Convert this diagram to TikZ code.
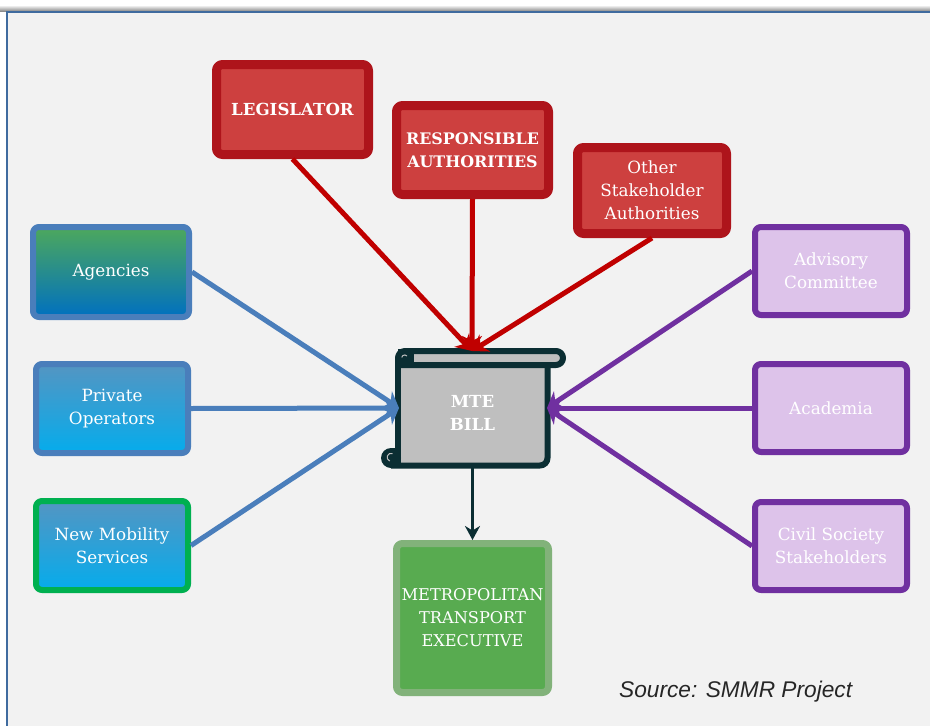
\documentclass[tikz,border=0pt]{standalone}
\usepackage{fontspec}
\setmainfont{DejaVu Serif}
\newfontfamily\srcfont{Liberation Sans}
\usetikzlibrary{shadows,arrows.meta}
\definecolor{bgc}{HTML}{F2F2F2}
\definecolor{redb}{HTML}{AE141B}
\definecolor{redf}{HTML}{CD403F}
\definecolor{redl}{HTML}{C00000}
\definecolor{blueb}{HTML}{4A7EBB}
\definecolor{purb}{HTML}{7030A0}
\definecolor{purf}{HTML}{DDC3EA}
\definecolor{darkb}{HTML}{0B2E33}
\definecolor{grayf}{HTML}{BFBFBF}
\definecolor{greenf}{HTML}{58AB50}
\definecolor{greenb}{HTML}{82B27A}
\definecolor{greenn}{HTML}{00B050}
\definecolor{agtop}{HTML}{4DA85C}
\definecolor{agbot}{HTML}{0070C0}
\definecolor{sktop}{HTML}{5495C2}
\definecolor{skbot}{HTML}{05ACEC}
\tikzset{
  boxbase/.style={draw,rounded corners=6pt,line join=round,align=center,text=white,inner sep=0pt,
    drop shadow={shadow xshift=0pt,shadow yshift=-2pt,fill=black,opacity=.35}},
  redbox/.style={boxbase,draw=redb,fill=redf,line width=9pt},
  bluebox/.style={boxbase,draw=blueb,line width=6pt},
  purbox/.style={boxbase,draw=purb,fill=purf,line width=6pt,
    minimum width=152pt,minimum height=88pt,drop shadow={shadow xshift=0pt,shadow yshift=-1pt,fill=black,opacity=.15}},
  boldtxt/.style={font=\fontsize{16.6}{23}\selectfont\bfseries},
  boldsmall/.style={font=\fontsize{15.9}{23}\selectfont\bfseries},
  regtxt/.style={font=\fontsize{16.8}{23}\selectfont},
  captxt/.style={font=\fontsize{16.2}{23}\selectfont},
  redarrow/.style={draw=redl,line width=5pt,-{Stealth[length=15pt,width=20pt]}},
  bluearrow/.style={draw=blueb,line width=5pt,-{Stealth[length=15pt,width=20pt]}},
  purarrow/.style={draw=purb,line width=5pt,-{Stealth[length=15pt,width=20pt]}},
  darkarrow/.style={draw=darkb,line width=3.5pt,-{Stealth[length=14pt,width=15pt]}},
  scrollline/.style={draw=darkb,line width=6pt,line join=round},
}
\begin{document}
\begin{tikzpicture}[x=1pt,y=-1pt]
\useasboundingbox (0,0) rectangle (930,726);
% panel
\fill[white] (0,0) rectangle (930,726);
\shade[top color=white,bottom color=black!45] (0,5) rectangle (930,11);
\fill[bgc] (6,12) rectangle (930,726);
\draw[blueb!85!black,line width=2pt] (7,726) -- (7,12) -- (930,12);
% scroll
\fill[grayf] (398,358) rectangle (547,465);
\filldraw[scrollline,fill=grayf] (405,351) -- (556,351)
   arc[start angle=-90,end angle=90,radius=7] -- (398,365) -- (398,358)
   arc[start angle=180,end angle=270,radius=7] -- cycle;
\fill[darkb] (398,349) rectangle (414,366);
\draw[grayf,line width=1pt] (407,356) arc[start angle=-40,end angle=-170,radius=3];
\draw[scrollline] (547.5,365) -- (547.5,458) arc[start angle=0,end angle=90,radius=7.5] -- (391,465.5);
\draw[scrollline] (398,365) -- (398,452);
\fill[darkb] (391,458) circle[radius=10];
\fill[darkb] (391,448) rectangle (401,468);
\draw[grayf,line width=1pt] (392.5,453.5) arc[start angle=-70,end angle=-250,radius=4];
\node[minimum width=150pt,minimum height=110pt,inner sep=0pt,outer sep=0pt,align=center,
  text=white,boldtxt] (bill) at (472.5,413) {MTE\\BILL};
% red boxes
\node[redbox,boldtxt,minimum width=152pt,minimum height=90pt] (legislator) at (292.5,109.5) {LEGISLATOR};
\node[redbox,boldsmall,minimum width=152pt,minimum height=89pt] (resp) at (472.5,150) {RESPONSIBLE\\AUTHORITIES};
\node[redbox,regtxt,minimum width=149pt,minimum height=86pt] (other) at (652,190.5) {Other\\Stakeholder\\Authorities};
% blue boxes
\node[bluebox,regtxt,top color=agtop,bottom color=agbot,
  minimum width=156pt,minimum height=90pt] (agencies) at (111,272) {\raisebox{-1pt}{Agencies}};
\node[bluebox,regtxt,top color=sktop,bottom color=skbot,
  minimum width=152pt,minimum height=89pt] (private) at (112,408.5) {Private\\Operators};
\node[bluebox,draw=greenn,regtxt,top color=sktop,bottom color=skbot,
  minimum width=152pt,minimum height=89pt] (newmob) at (112,545.5) {New Mobility\\Services};
% purple boxes
\node[purbox,regtxt] (advisory) at (831,271) {Advisory\\Committee};
\node[purbox,regtxt] (academia) at (831,408) {Academia};
\node[purbox,regtxt] (civil) at (831,546) {Civil Society\\Stakeholders};
% green
\node[boxbase,captxt,draw=greenb,fill=greenf,line width=7pt,
  minimum width=152pt,minimum height=149pt] (mte) at (472.5,618) {METROPOLITAN\\TRANSPORT\\EXECUTIVE};
% connectors
\coordinate (billtop) at (472,351);
\coordinate (billleft) at (399,408);
\coordinate (billright) at (547,408);
\draw[redarrow] (legislator.south) -- (billtop);
\draw[redarrow] (other.south) -- (billtop);
\draw[redarrow] (resp.south) -- (billtop);
\draw[bluearrow] (agencies.east) -- (billleft);
\draw[bluearrow] (newmob.east) -- (billleft);
\draw[bluearrow] (private.east) -- (billleft);
\draw[purarrow] (advisory.west) -- (billright);
\draw[purarrow] (civil.west) -- (billright);
\draw[purarrow] (academia.west) -- (billright);
\draw[darkarrow] (bill.south) -- (mte.north);
% source
\node[inner sep=0pt,anchor=west,font=\srcfont\itshape\fontsize{22.7}{27}\selectfont,text=black!85] (source) at (619,692) {Source: SMMR Project};
\end{tikzpicture}
\end{document}
